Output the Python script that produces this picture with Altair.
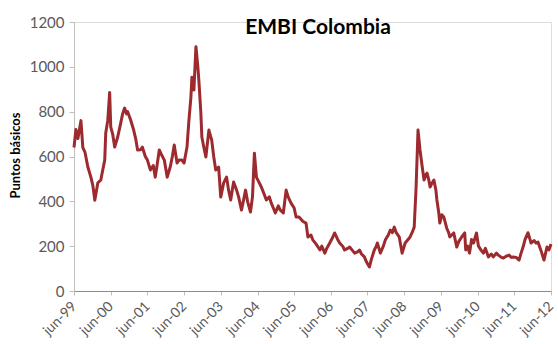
import altair as alt
import pandas as pd

dates = [
    "1999-06-01", "1999-06-20", "1999-07-10", "1999-08-09", "1999-08-28", "1999-09-18",
    "1999-10-17", "1999-11-16", "1999-12-06", "1999-12-25", "2000-01-24", "2000-02-23",
    "2000-03-13", "2000-04-02", "2000-04-12", "2000-05-02", "2000-05-21", "2000-06-01",
    "2000-06-20", "2000-07-10", "2000-08-09", "2000-09-08", "2000-09-27", "2000-10-17",
    "2000-11-06", "2000-11-16", "2000-12-16", "2001-01-15", "2001-02-04", "2001-02-23",
    "2001-03-23", "2001-04-12", "2001-05-11", "2001-06-01", "2001-06-30", "2001-07-29",
    "2001-08-18", "2001-09-08", "2001-09-27", "2001-10-17", "2001-11-16", "2001-12-15",
    "2002-01-14", "2002-02-04", "2002-02-23", "2002-03-23", "2002-04-12", "2002-05-11",
    "2002-06-01", "2002-06-30", "2002-07-19", "2002-08-08", "2002-08-18", "2002-09-07",
    "2002-09-27", "2002-10-16", "2002-10-26", "2002-11-15", "2002-11-25", "2002-12-15",
    "2003-01-04", "2003-02-03", "2003-03-03", "2003-03-23", "2003-04-12", "2003-05-11",
    "2003-06-01", "2003-06-30", "2003-07-29", "2003-08-18", "2003-09-08", "2003-10-07",
    "2003-11-06", "2003-11-26", "2003-12-25", "2004-02-03", "2004-02-23", "2004-03-23",
    "2004-04-12", "2004-05-01", "2004-05-21", "2004-06-10", "2004-07-09", "2004-08-08",
    "2004-08-28", "2004-09-27", "2004-10-16", "2004-11-06", "2004-11-25", "2004-12-25",
    "2005-01-14", "2005-02-13", "2005-03-13", "2005-04-02", "2005-05-01", "2005-06-01",
    "2005-06-20", "2005-07-19", "2005-08-28", "2005-09-27", "2005-10-16", "2005-11-15",
    "2005-12-05", "2006-01-04", "2006-02-13", "2006-03-03", "2006-04-02", "2006-04-21",
    "2006-05-21", "2006-06-20", "2006-07-09", "2006-08-08", "2006-08-28", "2006-09-27",
    "2006-10-16", "2006-11-15", "2006-12-05", "2007-01-04", "2007-01-24", "2007-02-23",
    "2007-03-13", "2007-04-02", "2007-05-01", "2007-05-21", "2007-06-20", "2007-07-09",
    "2007-08-08", "2007-08-28", "2007-09-07", "2007-10-07", "2007-11-06", "2007-11-25",
    "2007-12-25", "2008-01-14", "2008-02-03", "2008-02-23", "2008-03-13", "2008-04-12",
    "2008-05-11", "2008-06-10", "2008-07-09", "2008-07-29", "2008-08-18", "2008-09-08",
    "2008-09-27", "2008-10-16", "2008-11-05", "2008-11-25", "2008-12-15", "2009-01-04",
    "2009-01-14", "2009-02-03", "2009-02-13", "2009-03-03", "2009-03-23", "2009-04-12",
    "2009-04-22", "2009-05-11", "2009-05-21", "2009-06-10", "2009-06-30", "2009-07-29",
    "2009-08-18", "2009-08-28", "2009-09-17", "2009-10-07", "2009-11-06", "2009-11-25",
    "2009-12-25", "2010-01-24", "2010-02-03", "2010-02-23", "2010-03-13", "2010-04-02",
    "2010-04-22", "2010-05-21", "2010-06-10", "2010-07-09", "2010-07-29", "2010-08-18",
    "2010-09-17", "2010-10-16", "2010-11-05", "2010-12-05", "2010-12-25", "2011-01-24",
    "2011-02-13", "2011-03-13", "2011-04-12", "2011-05-01", "2011-05-21", "2011-06-20",
    "2011-07-19", "2011-08-08", "2011-08-28", "2011-09-17", "2011-10-16", "2011-11-05",
    "2011-11-15", "2011-12-15", "2012-01-04", "2012-01-24", "2012-02-23", "2012-03-13",
    "2012-03-23", "2012-04-22", "2012-05-11", "2012-06-01",
]

spread = [
    640, 720, 680, 760, 640, 620,
    553, 508, 470, 405, 482, 495,
    540, 584, 705, 760, 885, 731,
    700, 642, 687, 749, 790, 816,
    790, 800, 763, 718, 680, 629,
    630, 642, 600, 584, 540, 560,
    508, 570, 629, 610, 584, 508,
    553, 600, 651, 571, 584, 584,
    571, 642, 760, 865, 954, 897,
    1090, 1000, 941, 794, 687, 640,
    598, 718, 673, 600, 540, 553,
    419, 482, 508, 450, 406, 486,
    450, 420, 361, 450, 400, 352,
    420, 615, 508, 490, 464, 430,
    406, 420, 392, 370, 348, 380,
    361, 348, 450, 420, 392, 370,
    330, 330, 310, 303, 241, 250,
    227, 210, 183, 200, 169, 190,
    214, 240, 259, 230, 214, 200,
    183, 190, 196, 180, 169, 175,
    183, 165, 152, 130, 107, 140,
    183, 200, 214, 169, 200, 227,
    250, 272, 260, 285, 260, 241,
    169, 214, 230, 241, 260, 285,
    464, 718, 629, 560, 495, 520,
    526, 490, 464, 480, 495, 450,
    406, 348, 303, 340, 330, 280,
    259, 241, 250, 259, 196, 220,
    241, 259, 183, 200, 169, 230,
    214, 259, 200, 180, 169, 190,
    152, 165, 152, 169, 160, 150,
    147, 155, 160, 150, 152, 150,
    138, 169, 196, 230, 260, 230,
    214, 225, 214, 218, 180, 152,
    138, 196, 183, 210,
]

title_text = ["EMBI Colombia"]
tick_dates = [f"{y}-06-01" for y in range(1999, 2013)]
y_ticks = [0, 200, 400, 600, 800, 1000, 1200]

df = pd.DataFrame({"fecha": pd.to_datetime(dates), "pb": spread})
df_title = pd.DataFrame({"t": title_text})

FONT = "Lato"
GREY = "#595959"

line = (
    alt.Chart(df)
    .mark_line(color="#9C2A2E", strokeWidth=3, strokeJoin="round")
    .encode(
        x=alt.X(
            "fecha:T",
            scale=alt.Scale(domain=["1999-06-01", "2012-06-01"]),
            axis=alt.Axis(
                title=None,
                values=[pd.Timestamp(d).isoformat() for d in tick_dates],
                format="jun-%y",
                labelAngle=-45,
                labelAlign="right",
                labelBaseline="middle",
                labelFont=FONT,
                labelFontSize=14,
                labelColor=GREY,
                labelPadding=9,
                labelOverlap=False,
                labelBound=False,
                tickSize=4,
                tickColor="#BFBFBF",
                domainColor="#8C8C8C",
                grid=False,
            ),
        ),
        y=alt.Y(
            "pb:Q",
            scale=alt.Scale(domain=[0, 1200]),
            axis=alt.Axis(
                title="Puntos básicos",
                values=y_ticks,
                format="d",
                labelFont=FONT,
                labelFontSize=15,
                labelColor=GREY,
                labelPadding=5,
                tickSize=5,
                tickColor="#BFBFBF",
                domainColor="#BFBFBF",
                grid=False,
                titleFont=FONT,
                titleFontSize=13,
                titleFontWeight="bold",
                titleColor="#000000",
                titleAngle=-90,
                titleX=-59,
                titleY=133,
                titleAlign="center",
                titleBaseline="middle",
            ),
        ),
    )
)

title = (
    alt.Chart(df_title)
    .mark_text(
        font=FONT,
        fontSize=21,
        fontWeight="bold",
        color="#000000",
        align="center",
        baseline="alphabetic",
    )
    .encode(text="t:N", x=alt.value(244), y=alt.value(12))
)

chart = (
    alt.layer(line, title)
    .properties(
        width=477,
        height=269,
        autosize=alt.AutoSizeParams(type="none"),
        padding={"left": 74, "top": 22, "right": 7, "bottom": 53},
    )
    .configure_view(stroke=None)
    .configure(background="white")
)

chart.save("out.html", embed_options={"renderer": "svg", "actions": False})
